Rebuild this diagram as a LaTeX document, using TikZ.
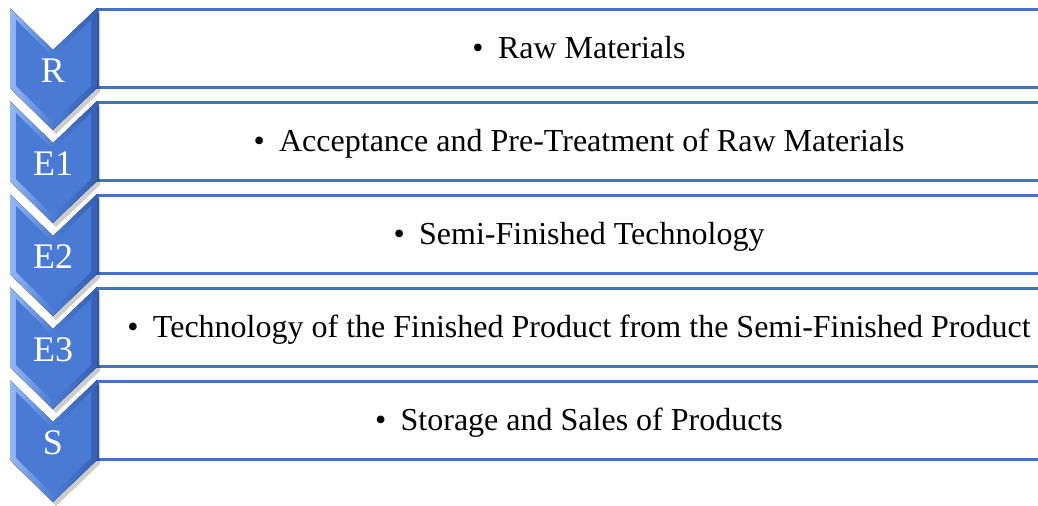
\documentclass[tikz,border=0pt]{standalone}
\usepackage{fontspec}
\setmainfont{Liberation Serif}
\usepackage{xcolor}
\usetikzlibrary{positioning,calc}

\definecolor{boxblue}{HTML}{4472C4}
\definecolor{chevface}{HTML}{4A7BD4}
\definecolor{chevlight}{HTML}{93B8F4}
\definecolor{chevdark}{HTML}{3461B4}

\tikzset{
  stagebox/.style={draw=boxblue, line width=1.5pt, fill=white},
  chevbevel/.style={left color=chevlight, right color=chevdark, middle color=chevface},
  chevtop/.style={fill=chevface},
  chevshadow/.style={fill=black, opacity=0.2},
  chevlabel/.style={text=white, font=\fontsize{18}{21}\selectfont, anchor=base},
  itemtext/.style={text=black, font=\fontsize{16}{19}\selectfont, anchor=base}
}

\begin{document}
\begin{tikzpicture}[x=0.5pt, y=-0.5pt]
    \useasboundingbox (0,0) rectangle (1038,506);
    \clip (0,0) rectangle (1038,506);

    % Stages: top of chevron / label / text
    \foreach \i/\t/\lab/\txt in {1/8/R/Raw Materials,
        2/101/E1/Acceptance and Pre-Treatment of Raw Materials,
        3/194/E2/Semi-Finished Technology,
        4/287/E3/Technology of the Finished Product from the Semi-Finished Product,
        5/380/S/Storage and Sales of Products} {
        % box
        \draw [stagebox] (97,\t+2) rectangle (1061,\t+80);
        \node [itemtext] (item\i) at (579,\t+51) {\textbullet\hspace{0.45em}\txt};
        % chevron shadow
        \fill [chevshadow] (13,\t+4) -- (56,\t+46) -- (100,\t+4) -- (100,\t+84)
            -- (56,\t+126) -- (13,\t+84) -- cycle;
        % chevron
        \fill [chevbevel] (10,\t) -- (53,\t+42) -- (97,\t) -- (97,\t+80)
            -- (53,\t+122) -- (10,\t+80) -- cycle;
        \fill [chevtop] (16,\t+12) -- (53,\t+49) -- (91,\t+12) -- (91,\t+78)
            -- (53,\t+114) -- (16,\t+78) -- cycle;
        \node [chevlabel] (stage\i) at (53,\t+75) {\lab};
    }
\end{tikzpicture}
\end{document}
